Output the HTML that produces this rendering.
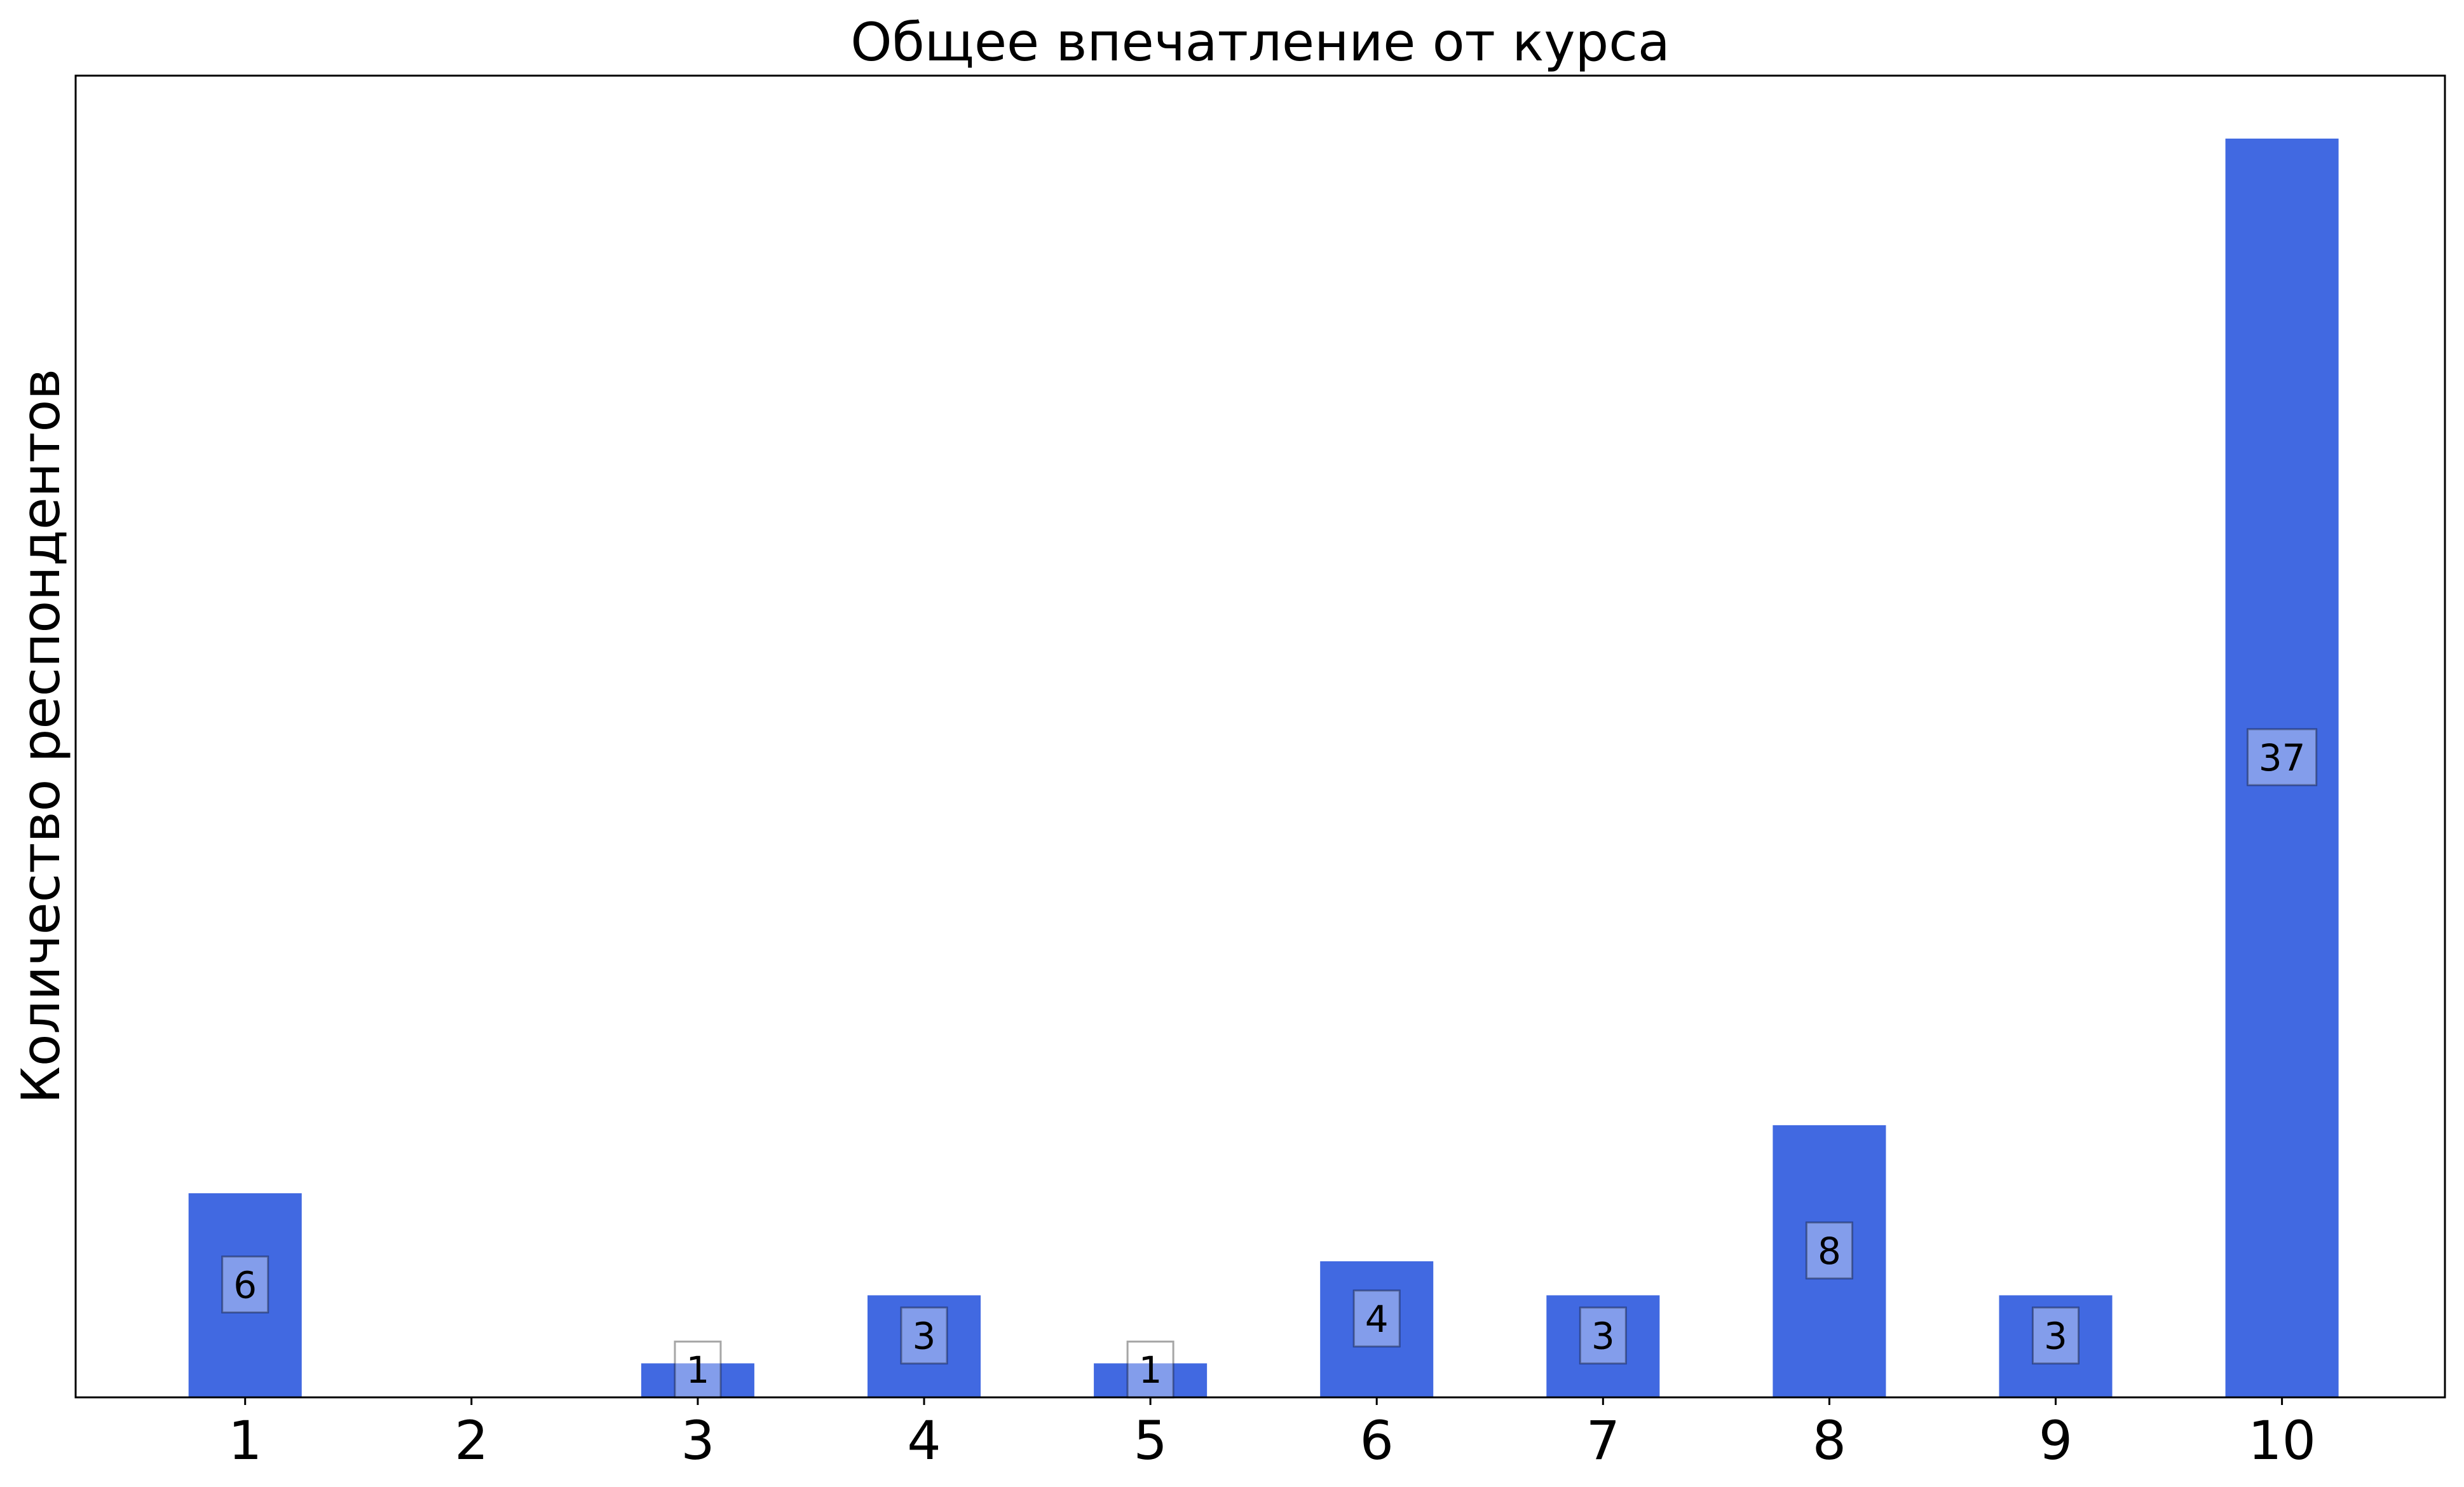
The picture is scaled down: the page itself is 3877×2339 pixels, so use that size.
<!DOCTYPE html>
<html><head><meta charset="utf-8"><style>
html,body{margin:0;padding:0;background:#fff;}
svg{display:block;font-family:"DejaVu Sans","Liberation Sans",sans-serif;}
</style></head><body>
<svg id="chart" width="3877" height="2339" viewBox="0 0 3877 2339" xmlns="http://www.w3.org/2000/svg">
<rect width="3877" height="2339" fill="#fff"/>
<text x="1983" y="95" font-size="83" text-anchor="middle">Общее впечатление от курса</text>
<text transform="translate(93,1158) rotate(-90)" font-size="83" text-anchor="middle">Количество респондентов</text>
<g id="bars"></g>
<g id="ticks"></g>
<rect x="119" y="119" width="3728" height="2079" fill="none" stroke="#000" stroke-width="3"/>
</svg>
<script>
const categories = ["1","2","3","4","5","6","7","8","9","10"];
const values = [6,0,1,3,1,4,3,8,3,37];
const L=119,R=3847,T=119,B=2198;
const xMin=0.251,xMax=10.72,yMax=38.85;
const xs=i=>L+(i+1-xMin)/(xMax-xMin)*(R-L);
const ys=v=>B-v/yMax*(B-T);
const NS="http://www.w3.org/2000/svg";
const bars=document.getElementById('bars'),ticks=document.getElementById('ticks');
const bw=0.5/(xMax-xMin)*(R-L);
function mk(t,a,p){const e=document.createElementNS(NS,t);for(const k in a)e.setAttribute(k,a[k]);p.appendChild(e);return e;}
categories.forEach((c,i)=>{
  const v=values[i],cx=xs(i);
  if(v>0){
    const r=mk('rect',{x:cx-bw/2,y:ys(v),width:bw,height:B-ys(v),fill:'#4169e1'},bars);
    
    
    const cy=(ys(v)+B)/2-17;
    const s=String(v),w=s.length*36+36;
    const bx=mk('rect',{x:cx-w/2,y:cy-44,width:w,height:88,fill:'rgba(255,255,255,0.35)',stroke:'rgba(0,0,0,0.35)','stroke-width':3},bars);
    
    
    const t=mk('text',{x:cx,y:cy+21,'font-size':58,'text-anchor':'middle'},bars);
    
    
    t.textContent=s;
  }
  const tk=mk('line',{x1:cx,x2:cx,y1:B,y2:B+12,stroke:'#000','stroke-width':3},ticks);
  
  
  const tl=mk('text',{x:cx,y:B+97,'font-size':84,'text-anchor':'middle'},ticks);
  
  
  tl.textContent=c;
});
</script>
</body></html>
